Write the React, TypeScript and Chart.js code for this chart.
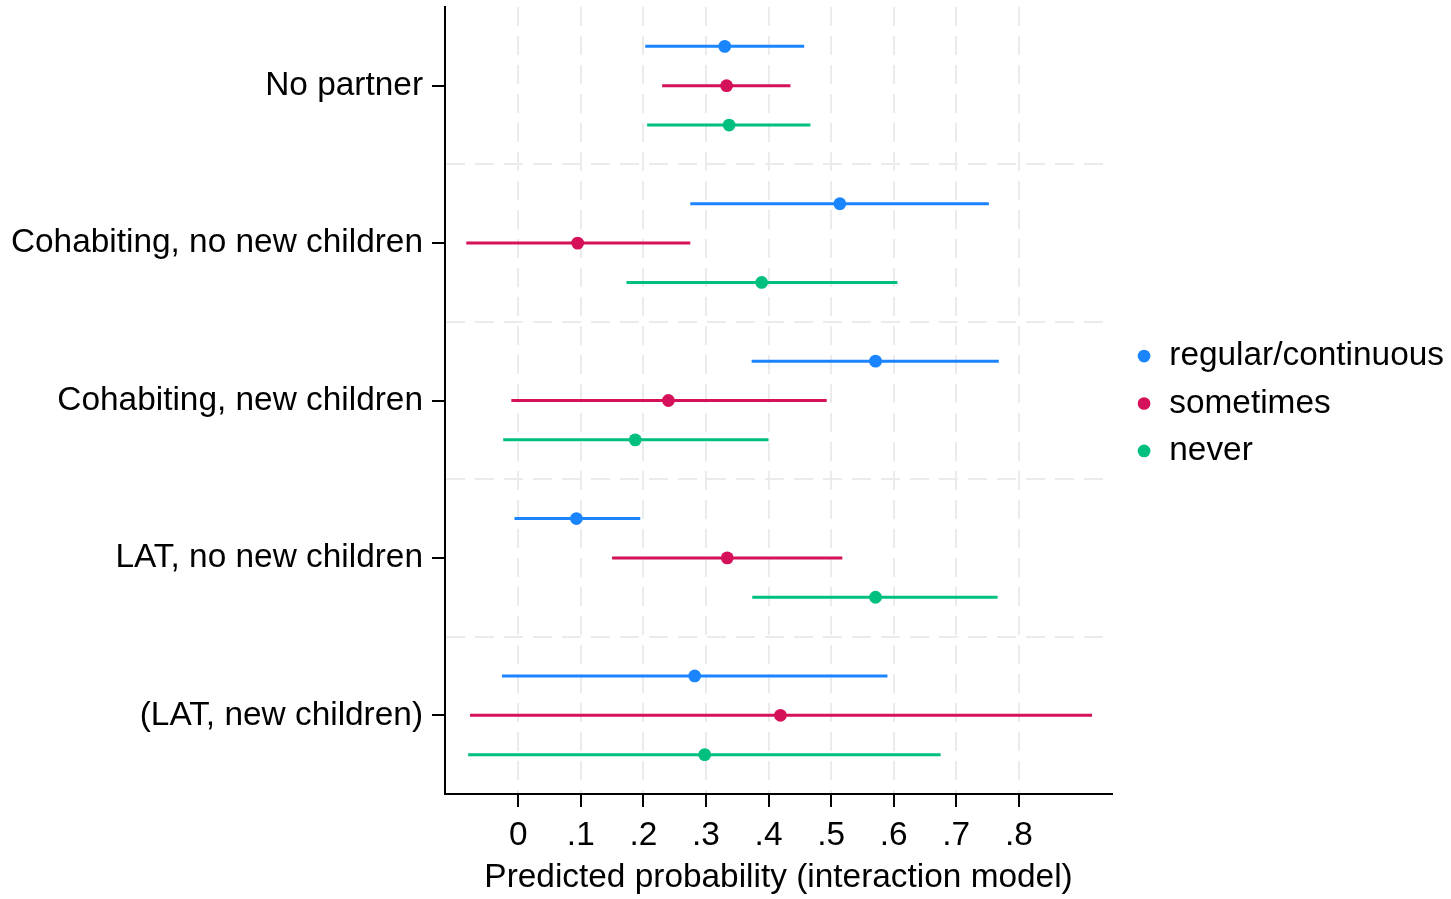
import React, { useEffect, useRef } from "react";
import { Chart, registerables } from "chart.js";

Chart.register(...registerables);

const categories = [
  "No partner",
  "Cohabiting, no new children",
  "Cohabiting, new children",
  "LAT, no new children",
  "(LAT, new children)",
];

const seriesNames = ["regular/continuous", "sometimes", "never"];
const seriesColors = ["#1a85ff", "#d41159", "#00bf7f"];

const regularEst = [0.330, 0.514, 0.571, 0.093, 0.282];
const regularLo = [0.203, 0.275, 0.373, -0.006, -0.026];
const regularHi = [0.457, 0.752, 0.768, 0.195, 0.590];

const sometimesEst = [0.333, 0.095, 0.240, 0.334, 0.419];
const sometimesLo = [0.230, -0.083, -0.011, 0.150, -0.077];
const sometimesHi = [0.435, 0.275, 0.493, 0.518, 0.917];

const neverEst = [0.337, 0.389, 0.187, 0.571, 0.298];
const neverLo = [0.206, 0.173, -0.024, 0.374, -0.080];
const neverHi = [0.467, 0.606, 0.400, 0.766, 0.675];

const xTickValues = [0, 0.1, 0.2, 0.3, 0.4, 0.5, 0.6, 0.7, 0.8];
const xTickLabels = ["0", ".1", ".2", ".3", ".4", ".5", ".6", ".7", ".8"];
const xTitle = "Predicted probability (interaction model)";

const FONT = "'Liberation Sans', Arial, Helvetica, sans-serif";
const FS = 33.4;
const GRID = "#ebebeb";

const legendToPlotArea = {
  id: "legendToPlotArea",
  afterLayout(chart: any) {
    const lg = chart.legend;
    if (lg && chart.chartArea) {
      lg.top = chart.chartArea.top + 3;
      lg.bottom = chart.chartArea.bottom + 3;
    }
  },
};

export default function App() {
  const ref = useRef<HTMLCanvasElement | null>(null);

  useEffect(() => {
    if (!ref.current) return;
    Chart.defaults.font.family = FONT;
    Chart.defaults.color = "#000";

    const ests = [regularEst, sometimesEst, neverEst];
    const los = [regularLo, sometimesLo, neverLo];
    const his = [regularHi, sometimesHi, neverHi];

    const pointSets = seriesNames.map((name, s) => ({
      label: name,
      data: categories.map((_, i) => ({ x: ests[s][i], y: 4 * i + 1 + s })),
      backgroundColor: seriesColors[s],
      borderColor: seriesColors[s],
      borderWidth: 0,
      pointRadius: 6.4,
      pointHoverRadius: 6.4,
      pointStyle: "circle",
      showLine: false,
      order: 0,
    }));

    const ciSets = seriesNames.map((name, s) => ({
      label: name + " CI",
      data: categories.flatMap((_, i) => [
        { x: los[s][i], y: 4 * i + 1 + s },
        { x: his[s][i], y: 4 * i + 1 + s },
        { x: null, y: null },
      ]),
      borderColor: seriesColors[s],
      backgroundColor: seriesColors[s],
      borderWidth: 3,
      pointRadius: 0,
      pointHoverRadius: 0,
      showLine: true,
      spanGaps: false,
      order: 1,
    }));

    const chart = new Chart(ref.current, {
      type: "scatter",
      data: { datasets: [...pointSets, ...ciSets] as any },
      plugins: [legendToPlotArea],
      options: {
        animation: false,
        responsive: false,
        maintainAspectRatio: false,
        layout: { padding: { top: 7, left: 0, right: -3, bottom: 0 } },
        plugins: {
          tooltip: { enabled: false },
          legend: {
            position: "right",
            align: "center",
            maxWidth: 500,
            labels: {
              filter: (item: any) => item.datasetIndex < 3,
              usePointStyle: true,
              pointStyle: "circle",
              boxWidth: 17,
              boxHeight: 9,
              padding: 14,
              color: "#000",
              font: { size: FS, family: FONT },
            },
          } as any,
        },
        scales: {
          x: {
            type: "linear",
            position: "bottom",
            min: -0.117,
            max: 0.949,
            afterBuildTicks: (scale: any) => {
              scale.ticks = xTickValues.map((v) => ({ value: v }));
            },
            afterFit: (scale: any) => {
              scale.height = 105;
              scale.paddingLeft = 0;
              scale.paddingRight = 0;
            },
            ticks: {
              autoSkip: false,
              maxRotation: 0,
              padding: 9,
              color: "#000",
              font: { size: FS, family: FONT },
              callback: (_v: any, index: number) => xTickLabels[index],
            },
            grid: {
              display: true,
              drawOnChartArea: true,
              drawTicks: true,
              color: GRID,
              lineWidth: 2,
              tickLength: 13,
              tickColor: "#000",
              tickWidth: 2,
              tickBorderDash: [],
            },
            border: { display: true, color: "#000", width: 2, dash: [19, 10] },
            title: {
              display: true,
              text: xTitle,
              color: "#000",
              font: { size: FS, family: FONT },
              padding: { top: 0, bottom: 1 },
            },
          },
          y: {
            type: "linear",
            position: "left",
            reverse: true,
            min: 0,
            max: 20,
            afterBuildTicks: (scale: any) => {
              const t: any[] = [];
              for (let v = 2; v <= 18; v += 2) t.push({ value: v });
              scale.ticks = t;
            },
            afterFit: (scale: any) => {
              scale.width = 445;
              scale.paddingTop = 0;
              scale.paddingBottom = 0;
            },
            ticks: {
              autoSkip: false,
              padding: 9,
              color: "#000",
              font: { size: FS, family: FONT },
              callback: (v: any) => {
                const n = Number(v);
                if (n % 4 === 2) return categories[(n - 2) / 4];
                return "";
              },
            },
            grid: {
              display: true,
              drawOnChartArea: true,
              drawTicks: true,
              color: (ctx: any) =>
                ctx.tick && ctx.tick.value % 4 === 0 ? GRID : "rgba(0,0,0,0)",
              lineWidth: 2,
              tickLength: 13,
              tickColor: (ctx: any) =>
                ctx.tick && ctx.tick.value % 4 === 2 ? "#000" : "rgba(0,0,0,0)",
              tickWidth: 2,
              tickBorderDash: [],
            },
            border: { display: true, color: "#000", width: 2, dash: [19, 10] },
          },
          pad: {
            type: "linear",
            position: "right",
            display: true,
            grid: { display: false, drawTicks: false },
            border: { display: false },
            ticks: { display: false },
            afterFit: (scale: any) => {
              scale.width = 9.5;
              scale.paddingTop = 0;
              scale.paddingBottom = 0;
            },
          },
        } as any,
      },
    });
    return () => chart.destroy();
  }, []);

  return (
    <div style={{ position: "fixed", left: 0, top: 0, width: 1451, height: 899, background: "#fff" }}>
      <canvas ref={ref} width={1451} height={899} style={{ display: "block" }} />
    </div>
  );
}
